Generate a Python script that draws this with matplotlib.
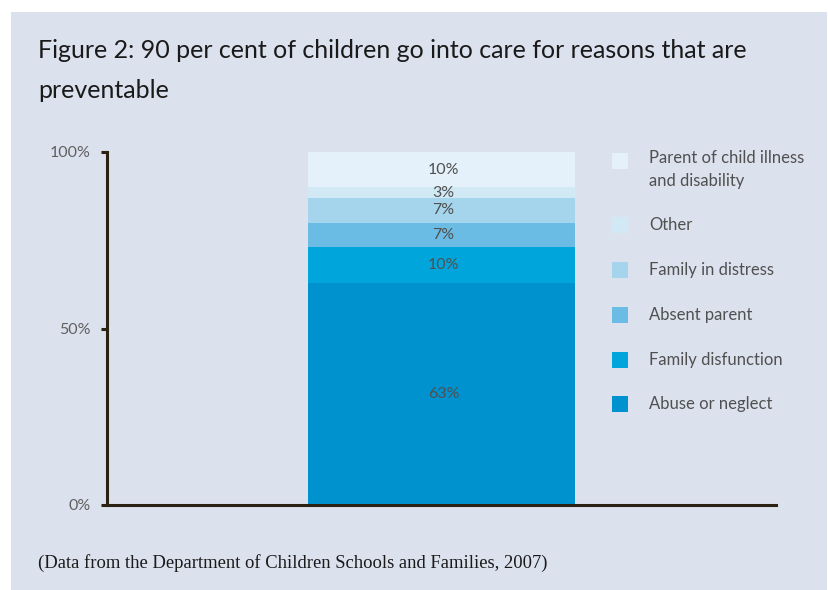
import matplotlib
matplotlib.use("Agg")
import matplotlib.pyplot as plt
from matplotlib.patches import Rectangle

# stacked shares, bottom to top
reasons = ["Abuse or neglect", "Family disfunction", "Absent parent",
           "Family in distress", "Other",
           "Parent of child illness\nand disability"]
shares = [63, 10, 7, 7, 3, 10]
colors = ["#0092cf", "#00a5dc", "#6bbce4", "#a5d4ed", "#d1e8f5", "#e4f1fa"]
yticks = [0, 50, 100]
ytick_labels = ["0%", "50%", "100%"]

W, H = 829, 590
bg = "#dce1ee"
font = "Lato"
txt = "#505050"

fig = plt.figure(figsize=(W / 100, H / 100), dpi=100)
fig.patch.set_facecolor("white")
# shaded panel
fig.add_artist(Rectangle((11 / W, 0), (827 - 11) / W, (H - 12) / H,
                         transform=fig.transFigure, facecolor=bg,
                         edgecolor="none", zorder=-10))

ax = fig.add_axes([107 / W, (H - 505) / H, (776 - 107) / W, (505 - 152) / H])
ax.set_facecolor("none")
ax.set_xlim(0, 1)
ax.set_ylim(0, 100)

bottom = 0
for val, col in zip(shares, colors):
    ax.bar(0.5, val, width=267 / 669, bottom=bottom, color=col, linewidth=0)
    ax.text(0.503, bottom + val / 2, f"{val}%", ha="center", va="center",
            fontsize=11.5, color=txt, family=font)
    bottom += val

for s in ["top", "right"]:
    ax.spines[s].set_visible(False)
for s in ["left", "bottom"]:
    ax.spines[s].set_color("#2b2212")
    ax.spines[s].set_linewidth(2.2)
ax.set_xticks([])
ax.set_yticks(yticks)
ax.set_yticklabels(ytick_labels, family=font, fontsize=11.5, color="#606060")
ax.tick_params(axis="y", length=4.5, width=2.2, color="#2b2212", pad=7)

# legend, drawn by hand in pixel positions
leg_y = [404, 360, 315, 270, 225, 161]
for yc, lab, col in zip(leg_y, reasons, colors):
    fig.add_artist(Rectangle((612 / W, (H - yc - 8) / H), 16 / W, 16 / H,
                             transform=fig.transFigure, facecolor=col,
                             edgecolor="none"))
    if "\n" in lab:
        fig.text(649 / W, (H - yc + 11) / H, lab, ha="left", va="top",
                 fontsize=12, color=txt, family=font, linespacing=1.55)
    else:
        fig.text(649 / W, (H - yc) / H, lab, ha="left", va="center",
                 fontsize=12, color=txt, family=font)

fig.text(38 / W, (H - 58) / H,
         "Figure 2: 90 per cent of children go into care for reasons that are",
         ha="left", va="baseline", fontsize=18, color="#1a1a1a", family=font)
fig.text(38 / W, (H - 98) / H, "preventable",
         ha="left", va="baseline", fontsize=18, color="#1a1a1a", family=font)

fig.text(38 / W, (H - 563) / H,
         "(Data from the Department of Children Schools and Families, 2007)",
         ha="left", va="center", fontsize=13.4, color="#1a1a1a",
         family="Liberation Serif")

fig.savefig("out.png", dpi=100)
